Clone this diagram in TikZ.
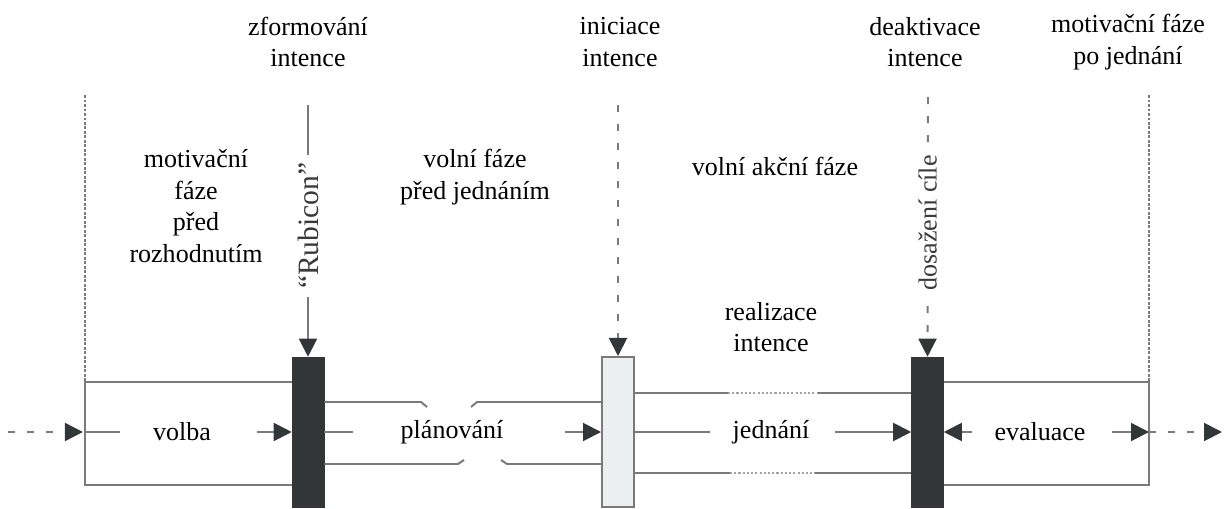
\documentclass[tikz,border=0pt]{standalone}
\usepackage{fontspec}
\setmainfont{Liberation Serif}
\usetikzlibrary{arrows.meta}
\definecolor{bargray}{HTML}{333637}
\definecolor{linegray}{HTML}{7A7A7A}
\definecolor{lightbar}{HTML}{ECEFF0}
\definecolor{textgray}{HTML}{3A3A3A}

\begin{document}
\begin{tikzpicture}[x=0.025cm,y=-0.025cm,
	every node/.style = {font=\rmfamily\fontsize{18.5}{22.5}\selectfont, align=center},
	bar node/.style = {draw=bargray, fill=bargray, inner sep=0pt, minimum width=0.8cm, minimum height=3.75cm},
	start node/.style = {bar node, draw=linegray, fill=lightbar, line width=1.4pt},
	frame/.style = {draw=linegray, line width=1.4pt},
	guide/.style = {frame, dash pattern=on 2pt off 1.2pt},
	lane gap/.style = {draw=linegray!70, line width=1.4pt, dash pattern=on 1.5pt off 1.5pt},
	tip/.style = {-{Triangle[length=0.45cm, width=0.45cm, color=bargray]}},
	dash line/.style = {frame, dash pattern=on 0.175cm off 0.3cm},
	rot label/.style = {rotate=90, fill=white, text=textgray, inner xsep=0.2cm, inner ysep=1pt}]

	% bars on the time line
	\node[bar node] (form) at (308,432) {};
	\node[start node] (init) at (618,432) {};
	\node[bar node] (deact) at (927.5,432) {};

	% headings above the bars
	\node (t-form) at (308,42) {zformování\\intence};
	\node (t-init) at (620,42) {iniciace\\intence};
	\node (t-deact) at (925,42) {deaktivace\\intence};
	\node (t-post) at (1128,42) {motivační fáze\\po jednání};

	% phases
	\node (motiv) at (196,206) {motivační\\fáze\\před\\rozhodnutím};
	\node (prevol) at (475,177) {volní fáze\\před jednáním};
	\node (actvol) at (775,166) {volní akční fáze};
	\node (realiz) at (771,327) {realizace\\intence};

	% labels on the line
	\node (volba) at (182,432) {volba};
	\node (plan) at (452,432) {plánování};
	\node (jedn) at (771,432) {jednání};
	\node (eval) at (1040,432) {evaluace};

	\coordinate (in) at (8,432);
	\coordinate (out) at (1222,432);
	\coordinate (lbox) at (85,382);
	\coordinate (lbox-b) at (85,485);
	\coordinate (rbox) at (1149,382);
	\coordinate (rbox-b) at (1149,485);
	\coordinate (lguide) at (85,95);
	\coordinate (rguide) at (1149,95);
	\coordinate (form-src) at (308,105);
	\coordinate (init-src) at (618,105);
	\coordinate (deact-src) at (928,97);

	% boxes before and after
	\draw[frame] (form.west |- lbox) -- (lbox) -- (lbox-b) -- (form.west |- lbox-b);
	\draw[frame] (deact.east |- rbox) -- (rbox) -- (rbox-b) -- (deact.east |- rbox-b);
	\draw[guide] (lguide) -- (lbox);
	\draw[guide] (rguide) -- (rbox);

	% planning lane, broken in the middle
	\draw[frame] (form.east |- 0,402) -- (421,402) -- (427,407);
	\draw[frame] (471,407) -- (477,402) -- (init.west |- 0,402);
	\draw[frame] (form.east |- 0,464) -- (458,464) -- (464,460);
	\draw[frame] (501,460) -- (507,464) -- (init.west |- 0,464);

	% action lane
	\draw[frame] (init.east |- 0,393) -- (728,393);
	\draw[lane gap] (728,393) -- (818,393);
	\draw[frame] (818,393) -- (deact.west |- 0,393);
	\draw[frame] (init.east |- 0,473) -- (730,473);
	\draw[lane gap] (730,473) -- (815,473);
	\draw[frame] (815,473) -- (deact.west |- 0,473);

	% flow along the line
	\draw[dash line, tip, shorten >=1.5pt] (in) -- (lbox |- volba);
	\draw[frame] (lbox |- volba) -- (120,432);
	\draw[frame, tip] (257,432) -- (form.west |- volba);
	\draw[frame] (form.east |- plan) -- (353,432);
	\draw[frame, tip] (565,432) -- (init.west |- plan);
	\draw[frame] (init.east |- jedn) -- (710,432);
	\draw[frame, tip] (835,432) -- (deact.west |- jedn);
	\draw[frame, tip] (972,432) -- (deact.east |- eval);
	\draw[frame, tip] (1112,432) -- (rbox |- eval);
	\draw[dash line, tip] (rbox |- eval) -- (out);

	% arrows from above
	\draw[frame, tip] (form-src) -- (form.north) node[rot label, pos=0.48, font=\rmfamily\fontsize{21}{24}\selectfont] {“Rubicon”};
	\draw[dash line, tip] (init-src) -- (init.north);
	\draw[dash line, tip] (deact-src) -- (deact.north) node[rot label, pos=0.485] {dosažení cíle};

	\useasboundingbox (0,0) rectangle (1232,507);
\end{tikzpicture}
\end{document}
